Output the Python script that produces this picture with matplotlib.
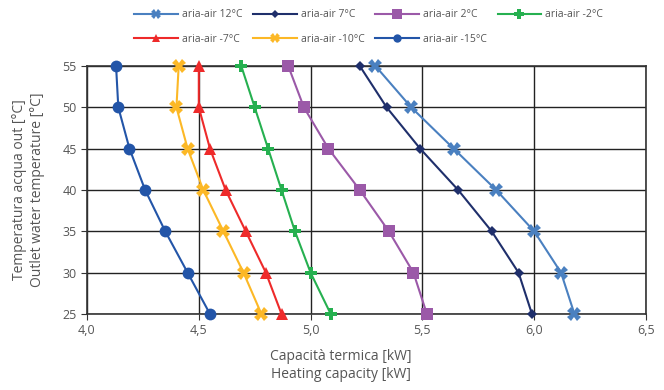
import matplotlib.pyplot as plt
from matplotlib.ticker import FixedLocator

plt.rcParams['font.family'] = ['Open Sans', 'DejaVu Sans']

temps = [55, 50, 45, 40, 35, 30, 25]

labels = ["aria-air 12°C", "aria-air 7°C", "aria-air 2°C", "aria-air -2°C",
          "aria-air -7°C", "aria-air -10°C", "aria-air -15°C"]

cap_12 = [5.29, 5.45, 5.64, 5.83, 6.00, 6.12, 6.18]
cap_7 = [5.22, 5.34, 5.49, 5.66, 5.81, 5.93, 5.99]
cap_2 = [4.90, 4.97, 5.08, 5.22, 5.35, 5.46, 5.52]
cap_m2 = [4.69, 4.75, 4.81, 4.87, 4.93, 5.00, 5.09]
cap_m7 = [4.50, 4.50, 4.55, 4.62, 4.71, 4.80, 4.87]
cap_m10 = [4.41, 4.40, 4.45, 4.52, 4.61, 4.70, 4.78]
cap_m15 = [4.13, 4.14, 4.19, 4.26, 4.35, 4.45, 4.55]

series = [cap_12, cap_7, cap_2, cap_m2, cap_m7, cap_m10, cap_m15]
colors = ["#4a80c0", "#1f2f6b", "#9b59a8", "#26b050", "#ee2a2a", "#fcb826", "#2355a8"]
markers = ["X", "D", "s", "P", "^", "X", "o"]
msizes = [10, 5.5, 8.5, 9, 8.5, 10, 8.5]

fig = plt.figure(figsize=(6.64, 3.9), dpi=100)
ax = fig.add_axes([87 / 664, 1 - 314 / 390, (646 - 87) / 664, (314 - 66) / 390])

handles = []
for vals, lab, c, m, ms in zip(series, labels, colors, markers, msizes):
    h, = ax.plot(vals, temps, color=c, marker=m, markersize=ms, linewidth=1.5,
                 markeredgewidth=0, label=lab, clip_on=False, zorder=3)
    handles.append(h)

ax.set_xlim(4.0, 6.5)
ax.set_ylim(25, 55)
ax.xaxis.set_major_locator(FixedLocator([4.0, 4.5, 5.0, 5.5, 6.0, 6.5]))
ax.yaxis.set_major_locator(FixedLocator(temps[::-1]))
ax.set_xticklabels(["4,0", "4,5", "5,0", "5,5", "6,0", "6,5"])
ax.grid(True, color="#222222", linewidth=1.0)
ax.set_axisbelow(True)
for s in ax.spines.values():
    s.set_color("#333333")
    s.set_linewidth(1.2)
ax.tick_params(axis="both", colors="#333333", labelcolor="#555555",
               labelsize=9, length=4, direction="out")

fig.text(341 / 664, 1 - 356 / 390, "Capacità termica [kW]", ha="center",
         va="center", fontsize=10, color="#555555")
fig.text(341 / 664, 1 - 374 / 390, "Heating capacity [kW]", ha="center",
         va="center", fontsize=10, color="#555555")
fig.text(20 / 664, 1 - 190 / 390, "Temperatura acqua out [°C]", ha="center",
         va="center", rotation=90, fontsize=10, color="#555555")
fig.text(38 / 664, 1 - 190 / 390, "Outlet water temperature [°C]", ha="center",
         va="center", rotation=90, fontsize=10, color="#555555")

# row-major order for a 4-column legend
order = [0, 4, 1, 5, 2, 6, 3]
leg_markers = [7, 4, 7, 7, 6, 7, 6]
leg = fig.legend([handles[i] for i in order], [labels[i] for i in order],
                 ncol=4, frameon=False, loc="upper left",
                 bbox_to_anchor=(125 / 664, 1.0), fontsize=7.5,
                 handlelength=4.2, handletextpad=0.4, columnspacing=1.0,
                 labelspacing=1.3, labelcolor="#555555")
for lh, i in zip(leg.legend_handles, order):
    lh.set_markersize(leg_markers[i])

fig.savefig("out.png", dpi=100)
